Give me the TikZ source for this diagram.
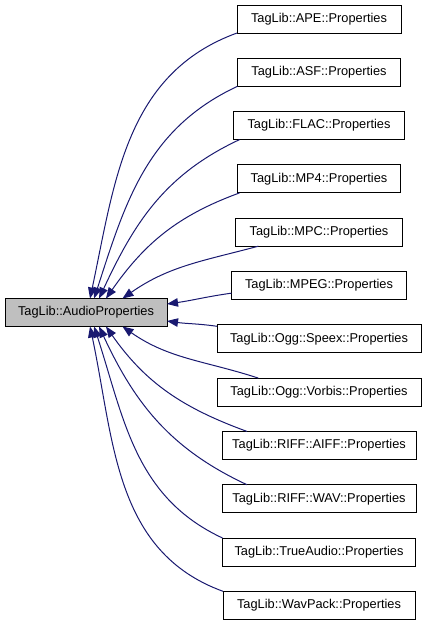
\documentclass[tikz,border=0pt]{standalone}
\usepackage{fontspec}
\setmainfont{Liberation Sans}
\usepackage{xcolor}
\usetikzlibrary{arrows.meta,positioning}
\definecolor{edgeblue}{RGB}{25,25,112}
\definecolor{rootgray}{RGB}{191,191,191}
\newcommand{\doxfont}{\fontsize{12.8}{15}\selectfont}

\begin{document}
\begin{tikzpicture}[
  box/.style={draw=black, fill=white, line width=1pt, minimum height=28pt,
              inner xsep=0pt, inner ysep=0pt, outer sep=0pt, font=\doxfont},
  root/.style={box, fill=rootgray, minimum width=162pt},
  arr/.style={-{Triangle[length=11pt, width=8.5pt]}, line width=1pt, color=edgeblue}
]
  \useasboundingbox (0pt,0pt) rectangle (427pt,-627pt);
  \node[root] (audio) at (86pt,-312.5pt) {TagLib::AudioProperties};
  \node[box, minimum width=164pt] (ape) at (319pt,-19pt) {TagLib::APE::Properties};
  \node[box, minimum width=163pt, below=25.3pt of ape] (asf) {TagLib::ASF::Properties};
  \node[box, minimum width=171pt, below=25.3pt of asf] (flac) {TagLib::FLAC::Properties};
  \node[box, minimum width=163pt, below=25.3pt of flac] (mp4) {TagLib::MP4::Properties};
  \node[box, minimum width=167pt, below=25.3pt of mp4] (mpc) {TagLib::MPC::Properties};
  \node[box, minimum width=175pt, below=25.3pt of mpc] (mpeg) {TagLib::MPEG::Properties};
  \node[box, minimum width=204pt, below=25.3pt of mpeg] (speex) {TagLib::Ogg::Speex::Properties};
  \node[box, minimum width=204pt, below=25.3pt of speex] (vorbis) {TagLib::Ogg::Vorbis::Properties};
  \node[box, minimum width=194pt, below=25.3pt of vorbis] (aiff) {TagLib::RIFF::AIFF::Properties};
  \node[box, minimum width=194pt, below=25.3pt of aiff] (wav) {TagLib::RIFF::WAV::Properties};
  \node[box, minimum width=193pt, below=25.3pt of wav] (trueaudio) {TagLib::TrueAudio::Properties};
  \node[box, minimum width=192pt, below=25.3pt of trueaudio] (wavpack) {TagLib::WavPack::Properties};
  % inheritance edges, arrow at the base class
  \draw[arr] (ape.south west) to[out=200, in=78] (audio.74.3);
  \draw[arr] (asf.south west) to[out=205, in=72] (audio.60.7);
  \draw[arr] (flac.190.4) to[out=205, in=65] (audio.47.6);
  \draw[arr] (mp4.190.7) to[out=200, in=55] (audio.35.5);
  \draw[arr] (mpc.193.5) to[out=195, in=35] (audio.21.6);
  \draw[arr] (mpeg.185.5) to[out=188, in=8] (audio.6);
  \draw[arr] (speex.173.8) to[out=172, in=-8] (audio.-6);
  \draw[arr] (vorbis.167.1) to[out=162, in=-35] (audio.-21.6);
  \draw[arr] (aiff.169) to[out=160, in=-55] (audio.-35.5);
  \draw[arr] (wav.169.7) to[out=155, in=-65] (audio.-47.6);
  \draw[arr] (trueaudio.north west) to[out=155, in=-72] (audio.-60.7);
  \draw[arr] (wavpack.north west) to[out=160, in=-78] (audio.-74.3);
\end{tikzpicture}
\end{document}
